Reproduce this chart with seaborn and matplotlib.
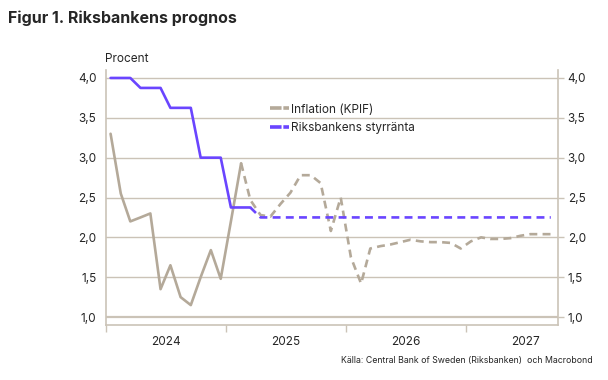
import pandas as pd
import numpy as np
import matplotlib.pyplot as plt
import matplotlib.dates as mdates
from matplotlib.lines import Line2D
from matplotlib.ticker import FixedLocator, NullFormatter
import seaborn as sns

# --------------------- DATA --------------------- #

# KPIF inflation, outcome Jan 2024 - Feb 2025
kpif_outcome_start = '2024-01'
kpif_outcome = [3.3, 2.55, 2.2, 2.25, 2.3, 1.35, 1.65, 1.25, 1.15, 1.5, 1.84, 1.48,
                2.2, 2.93]

# KPIF inflation, forecast Feb 2025 - Sep 2027
kpif_forecast_start = '2025-02'
kpif_forecast = [2.93, 2.47, 2.28, 2.26, 2.42, 2.56, 2.78, 2.78, 2.68, 2.08, 2.5,
                 1.75, 1.42, 1.86, 1.89, 1.91, 1.94, 1.97, 1.95, 1.94, 1.94, 1.93, 1.86,
                 1.95, 2.0, 1.98, 1.98, 1.99, 2.02, 2.04, 2.04, 2.04]

# Policy rate, outcome Jan 2024 - Mar 2025
rate_outcome_start = '2024-01'
rate_outcome = [4.0, 4.0, 4.0, 3.875, 3.875, 3.875, 3.625, 3.625, 3.625,
                3.0, 3.0, 3.0, 2.375, 2.375, 2.375]

# Policy rate, forecast Mar 2025 - Sep 2027
rate_forecast_start = '2025-03'
rate_forecast = [2.375] + [2.25] * 30

y_ticks = [1.0, 1.5, 2.0, 2.5, 3.0, 3.5, 4.0]
y_labels = ['1,0', '1,5', '2,0', '2,5', '3,0', '3,5', '4,0']
years = ['2024', '2025', '2026', '2027']

series_names = ['Inflation (KPIF)', 'Riksbankens styrränta']


def to_frame(start, values):
    # monthly points placed in the middle of each month
    months = pd.period_range(start, periods=len(values), freq='M')
    dates = months.to_timestamp() + pd.Timedelta(days=14)
    return pd.DataFrame({'date': dates, 'value': values})


# --------------------- STYLE --------------------- #

sns.set_style('white')
plt.rcParams['font.family'] = ['Inter', 'DejaVu Sans']

grey = '#B4A999'
purple = '#6A45FF'
grid_col = '#CBC3B7'
dash = (0, (3, 2))
lw = 1.9

fig = plt.figure(figsize=(6.08, 3.8), dpi=100)
ax = fig.add_axes([0.1743, 0.1447, 0.7435, 0.6711])

# --------------------- LINES --------------------- #

sns.lineplot(x='date', y='value', data=to_frame(kpif_outcome_start, kpif_outcome),
             ax=ax, color=grey, lw=lw)
sns.lineplot(x='date', y='value', data=to_frame(kpif_forecast_start, kpif_forecast),
             ax=ax, color=grey, lw=lw, linestyle=dash)
sns.lineplot(x='date', y='value', data=to_frame(rate_outcome_start, rate_outcome),
             ax=ax, color=purple, lw=lw)
sns.lineplot(x='date', y='value', data=to_frame(rate_forecast_start, rate_forecast),
             ax=ax, color=purple, lw=lw, linestyle=dash)

# --------------------- AXES --------------------- #

ax.set_xlim(pd.Timestamp('2024-01-01'), pd.Timestamp('2027-10-07'))
ax.set_ylim(0.9, 4.1)
ax.set_xlabel('')
ax.set_ylabel('')

for y in y_ticks:
    ax.axhline(y, color=grid_col, lw=1.6 if y == 1.0 else 1.0, zorder=0)

ax.set_yticks(y_ticks)
ax.set_yticklabels(y_labels)
ax.tick_params(axis='y', left=False, right=True, labelleft=True, labelright=True,
               length=4, width=1, color=grid_col, labelsize=8.5, pad=3)

year_starts = [pd.Timestamp(f'{y}-01-01') for y in years]
year_mids = [pd.Timestamp(f'{y}-07-01') for y in years]
ax.xaxis.set_major_locator(FixedLocator(mdates.date2num(year_starts)))
ax.xaxis.set_major_formatter(NullFormatter())
ax.xaxis.set_minor_locator(FixedLocator(mdates.date2num(year_mids)))
ax.set_xticklabels(years, minor=True)
ax.tick_params(axis='x', which='major', bottom=True, length=5, width=1, color=grid_col)
ax.tick_params(axis='x', which='minor', bottom=False, labelsize=8.5, pad=6)

for side in ['left', 'right', 'bottom']:
    ax.spines[side].set_color(grid_col)
    ax.spines[side].set_linewidth(1.2)
ax.spines['top'].set_visible(False)

# Legend
handles = [Line2D([0], [0], color=grey, lw=2.6, linestyle=(0, (3.2, 0.5))),
           Line2D([0], [0], color=purple, lw=2.6, linestyle=(0, (3.2, 0.5)))]
ax.legend(handles, series_names, frameon=False, loc='upper left',
          bbox_to_anchor=(0.34, 0.91), fontsize=8.5, handlelength=1.6,
          handletextpad=0.15, labelspacing=0.55)

# --------------------- TEXT --------------------- #

fig.text(0.013, 0.952, 'Figur 1. Riksbankens prognos', fontsize=11.5,
         fontweight='bold', va='center', ha='left')
fig.text(0.173, 0.845, 'Procent', fontsize=8.5, va='center', ha='left')
fig.text(0.975, 0.05, 'Källa: Central Bank of Sweden (Riksbanken)  och Macrobond',
         fontsize=6.3, va='center', ha='right')

plt.savefig('out.png', dpi=100)
